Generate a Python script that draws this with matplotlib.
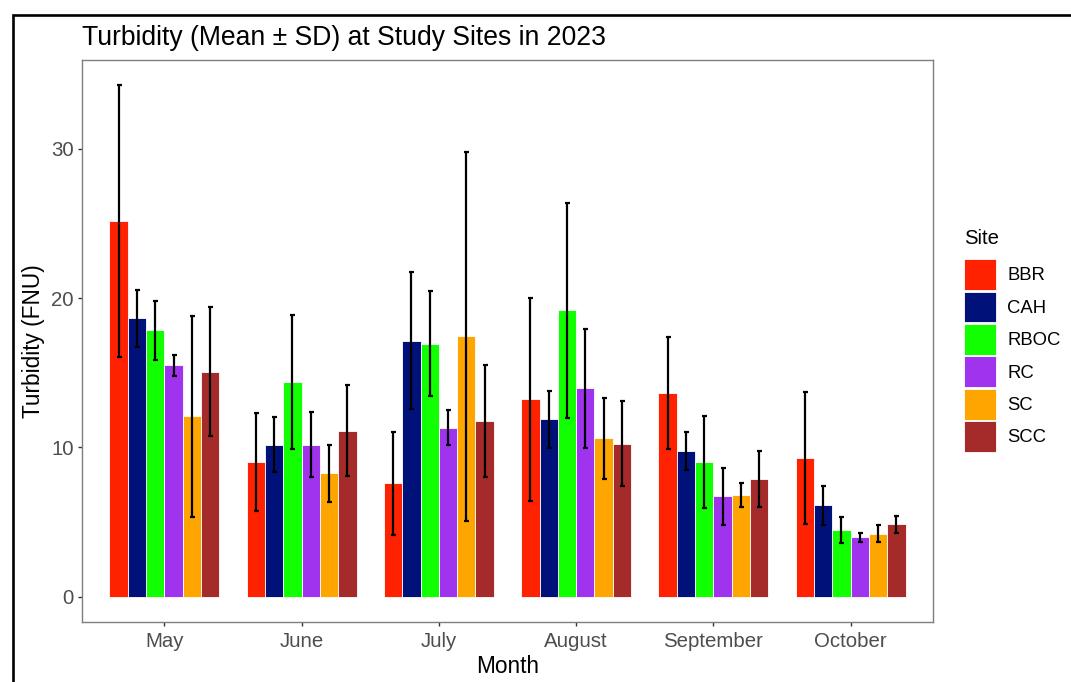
import numpy as np
import matplotlib
matplotlib.use("Agg")
import matplotlib.pyplot as plt
from matplotlib.patches import Patch, Rectangle

plt.rcParams["font.family"] = ["Liberation Sans", "DejaVu Sans"]

MONTHS = ["May", "June", "July", "August", "September", "October"]
SITES = ["BBR", "CAH", "RBOC", "RC", "SC", "SCC"]
COLORS = ["#FF2200", "#00127A", "#11FF00", "#A033EE", "#FFA500", "#A52A2A"]

# mean turbidity per site, one list per site (May..October)
BBR_MEAN = [25.15, 9.01, 7.58, 13.22, 13.65, 9.28]
CAH_MEAN = [18.65, 10.18, 17.14, 11.88, 9.75, 6.12]
RBOC_MEAN = [17.83, 14.39, 16.95, 19.17, 9.01, 4.45]
RC_MEAN = [15.49, 10.18, 11.31, 13.96, 6.72, 3.97]
SC_MEAN = [12.07, 8.27, 17.43, 10.61, 6.81, 4.21]
SCC_MEAN = [15.08, 11.12, 11.79, 10.23, 7.89, 4.85]

# standard deviations
BBR_SD = [9.1, 3.3, 3.42, 6.79, 3.75, 4.41]
CAH_SD = [1.9, 1.86, 4.6, 1.91, 1.3, 1.32]
RBOC_SD = [2.0, 4.47, 3.5, 7.2, 3.1, 0.88]
RC_SD = [0.7, 2.17, 1.18, 3.98, 1.91, 0.31]
SC_SD = [6.75, 1.92, 12.35, 2.7, 0.79, 0.57]
SCC_SD = [4.3, 3.04, 3.75, 2.85, 1.88, 0.56]

MEANS = [BBR_MEAN, CAH_MEAN, RBOC_MEAN, RC_MEAN, SC_MEAN, SCC_MEAN]
SDS = [BBR_SD, CAH_SD, RBOC_SD, RC_SD, SC_SD, SCC_SD]

W, H = 1071, 682
fig = plt.figure(figsize=(W / 100, H / 100), dpi=100)

# outer black frame (runs off right/bottom like the screenshot)
fig.patches.append(Rectangle((12.5 / W, -0.1), 1.2, 1 - 14.5 / H + 0.1,
                             transform=fig.transFigure, fill=False,
                             edgecolor="black", lw=1.9))

ax = fig.add_axes([82 / W, (H - 622) / H, 851 / W, 562 / H])

x = np.arange(len(MONTHS))
group_w = 0.8
bw = group_w / len(SITES)
for i, (site, col) in enumerate(zip(SITES, COLORS)):
    xs = x - group_w / 2 + bw * (i + 0.5)
    ax.bar(xs, MEANS[i], width=bw, color=col, edgecolor="white", lw=0.6, zorder=2)
    ax.errorbar(xs, MEANS[i], yerr=SDS[i], fmt="none", ecolor="black",
                elinewidth=1.6, capsize=1.8, capthick=1.6, zorder=3)

ax.set_xlim(-0.6, len(MONTHS) - 0.4)
ax.set_ylim(-1.7, 35.95)
ax.set_xticks(x)
ax.set_xticklabels(MONTHS)
ax.set_yticks([0, 10, 20, 30])
ax.tick_params(axis="both", colors="#333333", length=3, width=1.0,
               labelsize=14.7, labelcolor="#4D4D4D")
ax.tick_params(axis="x", pad=4)
ax.tick_params(axis="y", pad=3)
for s in ax.spines.values():
    s.set_color("#7F7F7F")
    s.set_linewidth(1.0)

ax.set_xlabel("Month", fontsize=16.3, color="black", labelpad=3)
ax.set_ylabel("Turbidity (FNU)", fontsize=16.3, color="black", labelpad=4)

fig.text(82 / W, 1 - 45 / H, "Turbidity (Mean \u00b1 SD) at Study Sites in 2023",
         fontsize=19.1, ha="left", va="baseline", color="black")

handles = [Patch(facecolor=c, edgecolor="white", lw=0.6) for c in COLORS]
leg = fig.legend(handles, SITES, title="Site", loc="upper left",
                 bbox_to_anchor=(964 / W, 1 - 229 / H), frameon=False,
                 fontsize=13.3, title_fontsize=14.6, handlelength=1.75,
                 handleheight=2.2, labelspacing=0.08, handletextpad=0.6,
                 borderpad=0, borderaxespad=0, alignment="left")
# extra room between the legend title and the keys
leg._legend_box.sep = 8

fig.savefig("out.png", dpi=100)
